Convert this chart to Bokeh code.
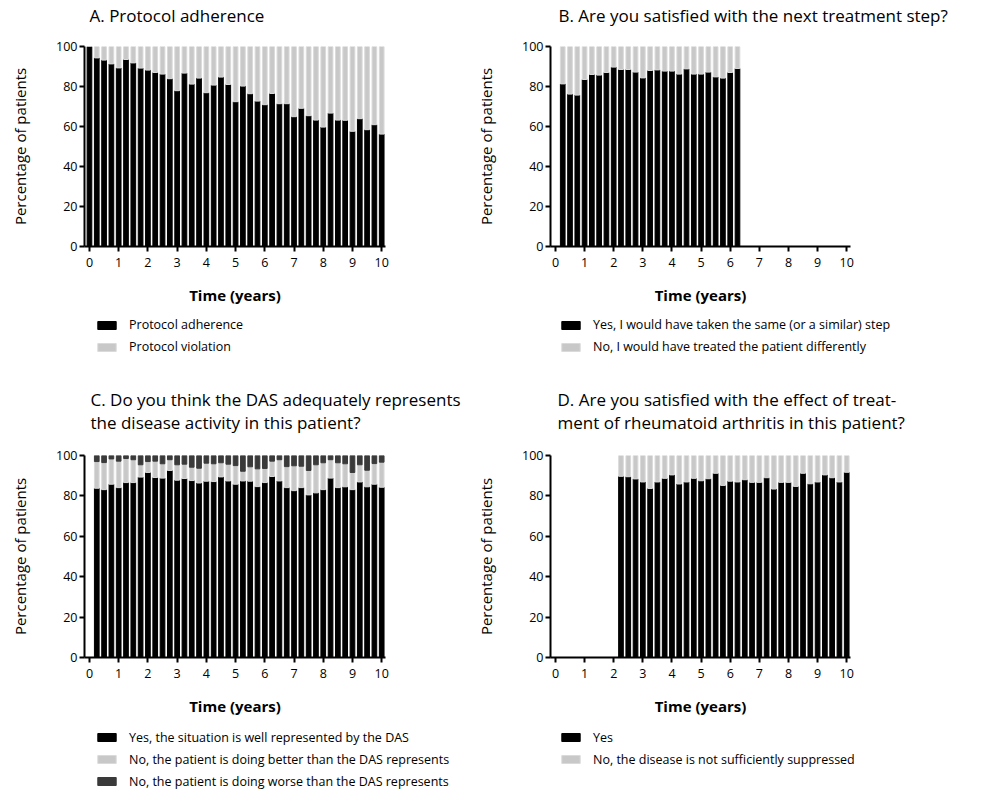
from bokeh.plotting import figure
from bokeh.layouts import column, row
from bokeh.models import Range1d, Legend, LegendItem, FixedTicker, ColumnDataSource
from bokeh.embed import file_html
from bokeh.resources import INLINE

# ---------------- data ----------------
x_ticks = [0, 1, 2, 3, 4, 5, 6, 7, 8, 9, 10]
y_ticks = [0, 20, 40, 60, 80, 100]

time_a = [0, 0.25, 0.5, 0.75, 1, 1.25, 1.5, 1.75, 2, 2.25, 2.5, 2.75, 3, 3.25, 3.5, 3.75,
          4, 4.25, 4.5, 4.75, 5, 5.25, 5.5, 5.75, 6, 6.25, 6.5, 6.75, 7, 7.25, 7.5, 7.75,
          8, 8.25, 8.5, 8.75, 9, 9.25, 9.5, 9.75, 10]
adherence = [100, 94.3, 93.2, 91.3, 89.3, 93.5, 91.8, 89.2, 88.2, 87.0, 86.2, 83.9, 77.9,
             86.7, 81.2, 84.2, 76.9, 80.7, 84.7, 81.0, 72.4, 80.2, 76.4, 72.7, 70.9, 76.5,
             71.4, 71.4, 64.9, 69.1, 65.4, 63.2, 59.7, 66.7, 63.2, 63.1, 57.6, 63.9, 58.4,
             60.9, 56.2]
violation = [100 - v for v in adherence]

time_b = [0.25, 0.5, 0.75, 1, 1.25, 1.5, 1.75, 2, 2.25, 2.5, 2.75, 3, 3.25, 3.5, 3.75,
          4, 4.25, 4.5, 4.75, 5, 5.25, 5.5, 5.75, 6, 6.25]
same_step = [81.3, 76.2, 75.7, 83.5, 86.0, 85.7, 87.0, 89.7, 88.5, 88.5, 87.2, 84.3, 88.0,
             88.3, 87.7, 87.7, 86.2, 88.8, 86.2, 86.2, 87.2, 84.8, 84.2, 87.0, 89.0]
different_step = [100 - v for v in same_step]

time_c = [0.25, 0.5, 0.75, 1, 1.25, 1.5, 1.75, 2, 2.25, 2.5, 2.75, 3, 3.25, 3.5, 3.75,
          4, 4.25, 4.5, 4.75, 5, 5.25, 5.5, 5.75, 6, 6.25, 6.5, 6.75, 7, 7.25, 7.5, 7.75,
          8, 8.25, 8.5, 8.75, 9, 9.25, 9.5, 9.75, 10]
well_represented = [83.8, 83.1, 85.8, 84.1, 86.6, 86.6, 89.3, 91.6, 89.1, 88.8,
                    92.6, 87.8, 88.6, 87.6, 86.4, 87.3, 87.1, 89.4, 87.4, 85.8,
                    87.4, 87.3, 84.6, 86.6, 89.6, 87.4, 84.1, 82.6, 84.1, 80.5,
                    81.5, 83.1, 88.8, 84.1, 84.5, 83.1, 86.9, 84.5, 85.8, 84.3]
doing_better = [13.2, 13.4, 12.5, 13.1, 11.9, 11.3, 6.1, 5.4, 8.1, 7.1,
                5.3, 7.6, 7.1, 6.6, 7.3, 8.9, 8.8, 7.0, 8.3, 9.2,
                4.8, 7.1, 8.8, 7.0, 7.6, 10.5, 10.4, 12.3, 10.6, 12.1,
                13.9, 13.3, 9.1, 12.3, 11.4, 8.5, 8.5, 8.2, 10.2, 12.4]
doing_worse = [100 - a - b for a, b in zip(well_represented, doing_better)]

time_d = [2.25, 2.5, 2.75, 3, 3.25, 3.5, 3.75, 4, 4.25, 4.5, 4.75, 5, 5.25, 5.5, 5.75,
          6, 6.25, 6.5, 6.75, 7, 7.25, 7.5, 7.75, 8, 8.25, 8.5, 8.75, 9, 9.25, 9.5, 9.75, 10]
effect_yes = [89.7, 89.5, 88.4, 86.9, 83.7, 86.9, 88.7, 90.4, 85.9, 86.9, 88.7, 87.5,
              88.5, 91.2, 85.2, 87.3, 86.9, 88.0, 86.7, 86.7, 89.0, 83.4, 86.7, 86.7,
              84.7, 91.2, 86.0, 86.9, 90.4, 89.0, 86.9, 91.7]
effect_no = [100 - v for v in effect_yes]

FONT = "Open Sans"
BLACK = "#000000"
LGRAY = "#c8c8c8"
LGRAY_LINE = "#dadada"
DGRAY = "#3a3a3a"


def blank_fig(width, height, left, right, top, bottom, title_loc=None):
    f = figure(width=width, height=height, output_backend="svg", toolbar_location=None,
               title_location=title_loc, x_range=Range1d(0, 1), y_range=Range1d(1000, 1001),
               x_axis_location=None, y_axis_location=None,
               min_border_left=left, min_border_right=right,
               min_border_top=top, min_border_bottom=bottom)
    f.outline_line_color = None
    f.grid.visible = False
    return f


def make_title(text, width, height, left, right, top, offset):
    t = blank_fig(width, height, left, right, top, 0, title_loc="above")
    t.title.text = text
    t.title.text_font = FONT
    t.title.text_font_size = "17px"
    t.title.text_font_style = "normal"
    t.title.text_color = "black"
    t.title.text_line_height = 1.0
    t.title.align = "left"
    t.title.offset = offset
    t.title.standoff = 2
    return t


def make_source(x, series):
    data = {"x": list(x)}
    cum = [0.0] * len(x)
    for i, s in enumerate(series):
        data["b%d" % i] = list(cum)
        cum = [a + b for a, b in zip(cum, s)]
        data["t%d" % i] = list(cum)
    return ColumnDataSource(data)


def make_panel(src, n, fills, lines, width, height, left, right, top, bottom):
    p = figure(width=width, height=height, output_backend="svg", toolbar_location=None,
               title_location=None,
               x_range=Range1d(-0.17, 10.13), y_range=Range1d(0, 100),
               min_border_left=left, min_border_right=right,
               min_border_top=top, min_border_bottom=bottom)
    p.outline_line_color = None
    p.grid.visible = False
    for i in range(n):
        p.vbar(x="x", width=0.16, bottom="b%d" % i, top="t%d" % i, source=src,
               fill_color=fills[i], line_color=lines[i], line_width=1)
    for ax in (p.xaxis[0], p.yaxis[0]):
        ax.axis_line_width = 2
        ax.major_tick_line_width = 2
        ax.major_tick_out = 5
        ax.major_tick_in = 0
        ax.minor_tick_line_color = None
        ax.major_label_text_font = FONT
        ax.major_label_text_font_size = "12.5px"
        ax.major_label_text_color = "black"
        ax.axis_label_text_font = FONT
        ax.axis_label_text_color = "black"
    p.xaxis.ticker = FixedTicker(ticks=x_ticks)
    p.yaxis.ticker = FixedTicker(ticks=y_ticks)
    p.xaxis.axis_label = "Time (years)"
    p.xaxis.axis_label_text_font_style = "bold"
    p.xaxis.axis_label_text_font_size = "15px"
    p.xaxis.major_label_standoff = 6
    p.xaxis.axis_label_standoff = 15
    p.yaxis.axis_label = "Percentage of patients"
    p.yaxis.axis_label_text_font_style = "normal"
    p.yaxis.axis_label_text_font_size = "15px"
    p.yaxis.major_label_standoff = 2
    p.yaxis.axis_label_standoff = 23
    return p


def make_legend(src, labels, fills, lines, width, height, left, dx, top, lh, sp):
    lf = blank_fig(width, height, left, 0, 0, 0)
    lf.frame_align = False
    items = []
    for i, (lab, f, l) in enumerate(zip(labels, fills, lines)):
        r = lf.vbar(x="x", width=0.16, bottom="b%d" % i, top="t%d" % i, source=src,
                    fill_color=f, line_color=l, line_width=1)
        items.append(LegendItem(label=lab, renderers=[r]))
    n = len(items)
    leg_h = n * lh + (n - 1) * sp
    leg = Legend(items=items, location=(dx, height - top - leg_h), orientation="vertical",
                 glyph_width=23, glyph_height=10, label_standoff=11, spacing=sp,
                 label_height=lh, margin=0, padding=0, border_line_color=None,
                 background_fill_alpha=0, label_text_font=FONT,
                 label_text_font_size="12.5px", label_text_color="black")
    lf.add_layout(leg, "center")
    return lf


WA, WB = 470, 505
LA, RA = 84, 85     # left/right borders of the A and C frames
LB, RB = 80, 125    # left/right borders of the B and D frames

# ---- A ----
sA = make_source(time_a, [adherence, violation])
tA = make_title("A. Protocol adherence", WA, 36, LA, RA, 27, 5)
pA = make_panel(sA, 2, [BLACK, LGRAY], [BLACK, LGRAY_LINE], WA, 274, LA, RA, 10, 64)
lA = make_legend(sA, ["Protocol adherence", "Protocol violation"],
                 [BLACK, LGRAY], [BLACK, LGRAY_LINE], WA, 52, LA, 11, 5, 19, 3)

# ---- B ----
sB = make_source(time_b, [same_step, different_step])
tB = make_title("B. Are you satisfied with the next treatment step?", WB, 36, LB, RB, 27, 8)
pB = make_panel(sB, 2, [BLACK, LGRAY], [BLACK, LGRAY_LINE], WB, 274, LB, RB, 10, 64)
lB = make_legend(sB, ["Yes, I would have taken the same (or a similar) step",
                      "No, I would have treated the patient differently"],
                 [BLACK, LGRAY], [BLACK, LGRAY_LINE], WB, 52, LB, 9, 5, 19, 3)

# ---- C ----
sC = make_source(time_c, [well_represented, doing_better, doing_worse])
tC = make_title("C. Do you think the DAS adequately represents\nthe disease activity in this patient?",
                WA, 82, LA, RA, 72, 6)
pC = make_panel(sC, 3, [BLACK, LGRAY, DGRAY], [BLACK, LGRAY_LINE, DGRAY],
                WA, 277, LA, RA, 11, 64)
lC = make_legend(sC, ["Yes, the situation is well represented by the DAS",
                      "No, the patient is doing better than the DAS represents",
                      "No, the patient is doing worse than the DAS represents"],
                 [BLACK, LGRAY, DGRAY], [BLACK, LGRAY_LINE, DGRAY], WA, 69, LA, 11, 7, 18, 4)

# ---- D ----
sD = make_source(time_d, [effect_yes, effect_no])
tD = make_title("D. Are you satisfied with the effect of treat-\nment of rheumatoid arthritis in this patient?",
                WB, 82, LB, RB, 72, 7)
pD = make_panel(sD, 2, [BLACK, LGRAY], [BLACK, LGRAY_LINE], WB, 277, LB, RB, 11, 64)
lD = make_legend(sD, ["Yes", "No, the disease is not sufficiently suppressed"],
                 [BLACK, LGRAY], [BLACK, LGRAY_LINE], WB, 69, LB, 9, 7, 18, 4)

layout = column(row(column(tA, pA, lA), column(tB, pB, lB)),
                row(column(tC, pC, lC), column(tD, pD, lD)))
open("out.html", "w").write(file_html(layout, INLINE))
